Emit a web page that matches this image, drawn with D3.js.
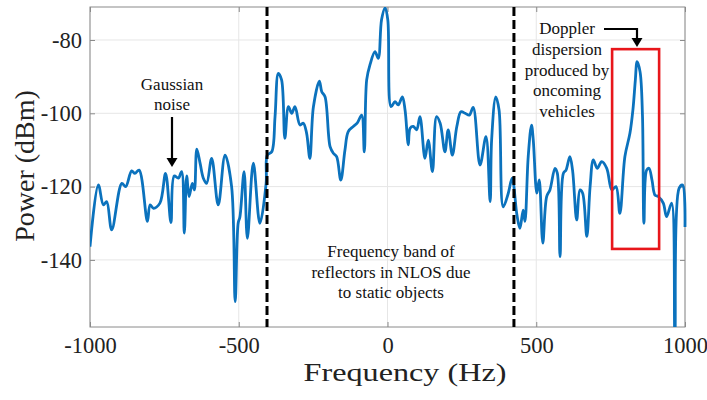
<!DOCTYPE html>
<html>
<head>
<meta charset="utf-8">
<script src="https://cdn.jsdelivr.net/npm/d3@7"></script>
<style>
  html, body { margin: 0; padding: 0; background: #fff; }
  svg { display: block; }
</style>
</head>
<body>
<svg id="chart" width="707" height="400"></svg>
<script>
// Measured spectrum: frequency (Hz) and received power (dBm)
const freqHz = [
  -1000, -972, -955, -944, -927, -893, -880, -860, -849, -835,
  -807, -798, -787, -765, -746, -728, -717, -703, -692, -683,
  -675, -667, -656, -649, -641, -630, -619, -608, -591, -569,
  -546, -524, -512, -502, -496, -482, -471, -451, -429, -408,
  -404, -389, -378, -367, -356, -345, -333, -322, -311, -294,
  -283, -272, -261, -249, -229, -221, -210, -193, -182, -171,
  -157, -143, -132, -115, -102, -87, -78, -70, -59, -42,
  -31, -20, -8, 1, 12, 25, 36, 50, 59, 70,
  76, 87, 98, 109, 126, 137, 151, 165, 177, 193,
  204, 218, 233, 247, 261, 275, 288, 311, 331, 345,
  350, 364, 375, 389, 406, 419, 435, 445, 456, 462,
  473, 484, 490, 502, 510, 522, 535, 546, 563, 571,
  580, 591, 600, 613, 622, 636, 647, 656, 670, 681,
  692, 705, 720, 737, 754, 768, 781, 798, 815, 825,
  833, 839, 849, 857, 862, 871, 879, 889, 899, 910,
  927, 938, 955, 966, 980, 992, 1000
];
const powerDbm = [
  -136.4, -119.5, -125, -124.1, -131.8, -119.1, -120, -115.7, -116.4, -115.5,
  -129.5, -125, -125.9, -124.5, -116.4, -129.8, -117.1, -117.7, -115.9, -132.7,
  -117.1, -122.7, -119.1, -120.9, -109.8, -113.6, -117.7, -119.1, -112.3, -125,
  -111.4, -120, -151.4, -130, -128.2, -115.9, -134.1, -113.6, -130, -119.1,
  -111.4, -110.5, -100.9, -89.1, -90.9, -106.8, -98.2, -100, -98.2, -103.2,
  -102.7, -105.4, -112.3, -98.2, -91.2, -94.1, -95.5, -109.1, -110.9, -111.8,
  -118.2, -110, -105, -103.6, -102.7, -100.5, -110.5, -90.9, -86.8, -83.2,
  -85, -74.5, -71.2, -74.5, -98.2, -96.8, -97.7, -95.5, -99.1, -108.6,
  -104.1, -103.6, -104.5, -100.9, -112.3, -107.3, -115.9, -100.9, -102.7, -110.5,
  -104.5, -111.4, -103.6, -99.6, -100, -100.5, -98.4, -114.1, -106.4, -124.1,
  -107.3, -95.5, -99.1, -125.5, -121.8, -117.7, -127.7, -131.4, -126.4, -129.5,
  -111.8, -103.2, -107.3, -121.8, -118.2, -135.4, -122.7, -120.9, -115, -116.4,
  -139.1, -116.4, -115.5, -111.8, -115.5, -129.1, -120.9, -121.8, -133.6, -120,
  -112.7, -115, -113.2, -115, -120.9, -120, -127.3, -111.8, -105.4, -99,
  -91, -85.9, -88.7, -100.5, -130, -115.5, -115, -118.2, -122.3, -122.7,
  -124.5, -128.2, -124.5, -160, -120.5, -119.6, -131
];

const xTicks = [-1000, -500, 0, 500, 1000];
const yTicks = [-140, -120, -100, -80];
const xTickLabels = ["-1000", "-500", "0", "500", "1000"];
const yTickLabels = ["-140", "-120", "-100", "-80"];

// Edges of the static-reflector band (dashed lines)
const bandEdgesHz = [-405, 425];
// Doppler highlight rectangle
const dopplerFreqRange = [755, 913];
const dopplerPowerRange = [-137, -82.5];

const noiseLabel = ["Gaussian", "noise"];
const dopplerLabel = ["Doppler", "dispersion", "produced by", "oncoming", "vehicles"];
const bandLabel = ["Frequency band of", "reflectors in NLOS due", "to static objects"];

const SERIF = "'Liberation Serif', 'Times New Roman', Times, serif";

const svg = d3.select("#chart");
svg.append("rect").attr("width", 707).attr("height", 400).attr("fill", "#fff");

const plot = { left: 90, right: 685, top: 7, bottom: 327 };
const x = d3.scaleLinear().domain([-1000, 1000]).range([plot.left, plot.right]);
const y = d3.scaleLinear().domain([-158.3, -71]).range([plot.bottom, plot.top]);

// Grid
const grid = svg.append("g").attr("stroke", "#e6e6e6").attr("stroke-width", 1);
grid.selectAll(".gx").data(xTicks).join("line")
  .attr("x1", d => x(d)).attr("x2", d => x(d))
  .attr("y1", plot.top).attr("y2", plot.bottom);
grid.selectAll(".gy").data(yTicks).join("line")
  .attr("x1", plot.left).attr("x2", plot.right)
  .attr("y1", d => y(d)).attr("y2", d => y(d));

// Axes (ticks point inward, box drawn on all four sides)
const axisColor = "#8a8a8a";
function styleAxis(g, showLabels) {
  g.select(".domain").remove();
  g.selectAll(".tick line").attr("stroke", axisColor);
  g.selectAll(".tick text")
    .attr("fill", "#222")
    .style("font-family", SERIF)
    .style("font-size", "22.5px")
    .style("display", showLabels ? null : "none");
}
svg.append("g").attr("transform", `translate(0,${plot.bottom})`)
  .call(d3.axisBottom(x).tickValues(xTicks).tickFormat((d, i) => xTickLabels[i]).tickSize(-5).tickPadding(10))
  .call(g => styleAxis(g, true));
svg.append("g").attr("transform", `translate(0,${plot.top})`)
  .call(d3.axisTop(x).tickValues(xTicks).tickSize(-5))
  .call(g => styleAxis(g, false));
svg.append("g").attr("transform", `translate(${plot.left},0)`)
  .call(d3.axisLeft(y).tickValues(yTicks).tickFormat((d, i) => yTickLabels[i]).tickSize(-5).tickPadding(8))
  .call(g => styleAxis(g, true));
svg.append("g").attr("transform", `translate(${plot.right},0)`)
  .call(d3.axisRight(y).tickValues(yTicks).tickSize(-5))
  .call(g => styleAxis(g, false));

svg.append("rect")
  .attr("x", plot.left).attr("y", plot.top)
  .attr("width", plot.right - plot.left).attr("height", plot.bottom - plot.top)
  .attr("fill", "none").attr("stroke", axisColor).attr("stroke-width", 1);

// Spectrum trace
svg.append("clipPath").attr("id", "plotClip")
  .append("rect")
  .attr("x", plot.left).attr("y", plot.top)
  .attr("width", plot.right - plot.left + 2).attr("height", plot.bottom - plot.top);

const points = freqHz.map((f, i) => [f, powerDbm[i]]);
const line = d3.line()
  .x(d => x(d[0])).y(d => y(d[1]))
  .curve(d3.curveCatmullRom.alpha(0.5));

svg.append("path")
  .datum(points)
  .attr("clip-path", "url(#plotClip)")
  .attr("d", line)
  .attr("fill", "none")
  .attr("stroke", "#0b72bd")
  .attr("stroke-width", 2.8)
  .attr("stroke-linejoin", "round");

// Band edges
svg.selectAll(".edge").data(bandEdgesHz).join("line")
  .attr("x1", d => x(d)).attr("x2", d => x(d))
  .attr("y1", plot.top).attr("y2", plot.bottom)
  .attr("stroke", "#000").attr("stroke-width", 3)
  .attr("stroke-dasharray", "9,4");

// Doppler box
svg.append("rect")
  .attr("x", x(dopplerFreqRange[0]))
  .attr("y", y(dopplerPowerRange[1]))
  .attr("width", x(dopplerFreqRange[1]) - x(dopplerFreqRange[0]))
  .attr("height", y(dopplerPowerRange[0]) - y(dopplerPowerRange[1]))
  .attr("fill", "none").attr("stroke", "#e8161b").attr("stroke-width", 2.6);

// Text annotations
function block(lines, cx, baseline, step) {
  const t = svg.append("text")
    .attr("text-anchor", "middle")
    .style("font-family", SERIF)
    .style("font-size", "17px")
    .attr("fill", "#111");
  lines.forEach((s, i) => {
    t.append("tspan").attr("x", cx).attr("y", baseline + i * step).text(s);
  });
}
block(noiseLabel, 172, 90, 20);
block(dopplerLabel, 567, 34, 20.8);
block(bandLabel, 391, 257, 20.5);

// Arrows
const arrowColor = "#000";
function arrowHead(tipX, tipY) {
  svg.append("path")
    .attr("d", `M${tipX - 5.5},${tipY - 9} L${tipX + 5.5},${tipY - 9} L${tipX},${tipY} Z`)
    .attr("fill", arrowColor);
}
svg.append("line")
  .attr("x1", 172).attr("x2", 172).attr("y1", 117).attr("y2", 159)
  .attr("stroke", arrowColor).attr("stroke-width", 2.2);
arrowHead(172, 167);

svg.append("polyline")
  .attr("points", "604,29 637,29 637,39")
  .attr("fill", "none").attr("stroke", arrowColor).attr("stroke-width", 2.2);
arrowHead(637, 47);

// Axis titles
svg.append("text")
  .attr("x", 405).attr("y", 381)
  .attr("text-anchor", "middle")
  .attr("textLength", 203).attr("lengthAdjust", "spacingAndGlyphs")
  .style("font-family", SERIF).style("font-size", "25px")
  .attr("fill", "#222")
  .text("Frequency (Hz)");

svg.append("text")
  .attr("transform", "translate(34,166) rotate(-90)")
  .attr("text-anchor", "middle")
  .style("font-family", SERIF).style("font-size", "28px")
  .attr("fill", "#222")
  .text("Power (dBm)");
</script>
</body>
</html>
